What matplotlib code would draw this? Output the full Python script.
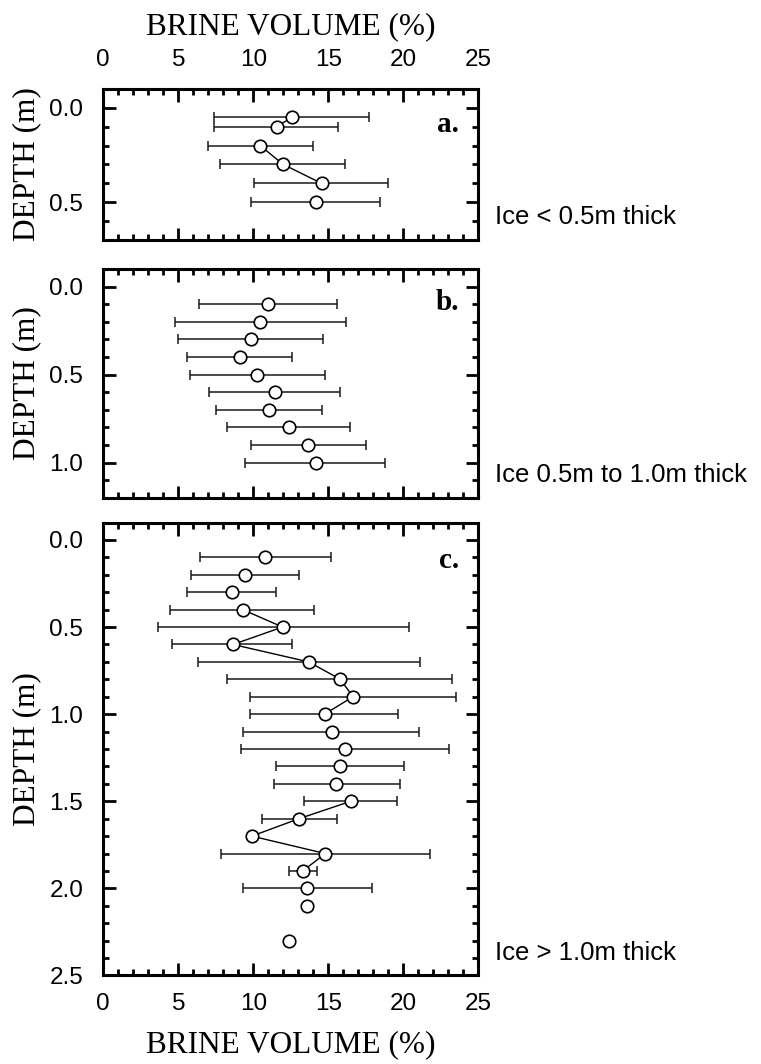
import numpy as np
import matplotlib
matplotlib.use("Agg")
import matplotlib.pyplot as plt
from matplotlib.ticker import MultipleLocator

nan = np.nan

# a. ice < 0.5 m thick
depth_a = [0.05, 0.1, 0.2, 0.3, 0.4, 0.5]
bv_a = [12.6, 11.55, 10.45, 12.0, 14.55, 14.2]
lo_a = [7.4, 7.4, 7.0, 7.75, 10.05, 9.85]
hi_a = [17.7, 15.65, 13.95, 16.1, 19.0, 18.45]
link_a = [1, 0, 1, 1, 0]

# b. ice 0.5 m to 1.0 m thick
depth_b = [0.1, 0.2, 0.3, 0.4, 0.5, 0.6, 0.7, 0.8, 0.9, 1.0]
bv_b = [10.95, 10.45, 9.85, 9.1, 10.25, 11.45, 11.05, 12.4, 13.65, 14.15]
lo_b = [6.35, 4.75, 5.0, 5.55, 5.75, 7.05, 7.5, 8.25, 9.85, 9.45]
hi_b = [15.6, 16.2, 14.65, 12.6, 14.75, 15.75, 14.6, 16.45, 17.5, 18.8]
link_b = [0, 0, 0, 0, 0, 0, 0, 0, 0]

# c. ice > 1.0 m thick
depth_c = [0.1, 0.2, 0.3, 0.4, 0.5, 0.6, 0.7, 0.8, 0.9, 1.0, 1.1,
           1.2, 1.3, 1.4, 1.5, 1.6, 1.7, 1.8, 1.9, 2.0, 2.1, 2.3]
bv_c = [10.8, 9.45, 8.55, 9.3, 11.95, 8.65, 13.7, 15.8, 16.65, 14.75, 15.25,
        16.1, 15.8, 15.5, 16.5, 13.05, 9.9, 14.8, 13.3, 13.6, 13.6, 12.35]
lo_c = [6.45, 5.85, 5.55, 4.45, 3.65, 4.6, 6.3, 8.25, 9.8, 9.8, 9.3,
        9.2, 11.5, 11.35, 13.35, 10.6, nan, 7.85, 12.4, 9.3, nan, nan]
hi_c = [15.15, 13.05, 11.5, 14.05, 20.35, 12.6, 21.1, 23.25, 23.5, 19.65, 21.05,
        23.05, 20.05, 19.75, 19.6, 15.55, nan, 21.8, 14.25, 17.9, nan, nan]
link_c = [0, 0, 0, 1, 1, 1, 1, 1, 1, 0, 0, 0, 0, 0, 1, 1, 1, 1, 0, 0, 0]

panels = [
    ("a.", "Ice < 0.5m thick", depth_a, bv_a, lo_a, hi_a, link_a, (-0.1, 0.7), [0.0, 0.5], 0.09),
    ("b.", "Ice 0.5m to 1.0m thick", depth_b, bv_b, lo_b, hi_b, link_b, (-0.1, 1.2), [0.0, 0.5, 1.0], 0.09),
    ("c.", "Ice > 1.0m thick", depth_c, bv_c, lo_c, hi_c, link_c, (-0.1, 2.5), [0.0, 0.5, 1.0, 1.5, 2.0, 2.5], 0.12),
]

# axes boxes in figure fractions (left, bottom, width, height)
boxes = [(0.1357, 0.7744, 0.4928, 0.1421),
         (0.1357, 0.5320, 0.4928, 0.2152),
         (0.1357, 0.0832, 0.4928, 0.4257)]
note_y = [0.796, 0.5536, 0.1043]

serif = "Liberation Serif"
sans = "Liberation Sans"
plt.rcParams["font.family"] = sans

fig = plt.figure(figsize=(7.61, 10.64), dpi=100)

for k, (tag, note, depth, bv, lo, hi, link, ylim, yticks, tag_y) in enumerate(panels):
    ax = fig.add_axes(boxes[k])
    depth = np.array(depth)
    bv = np.array(bv)
    lo = np.array(lo)
    hi = np.array(hi)

    ok = ~np.isnan(lo)
    ax.errorbar(bv[ok], depth[ok], xerr=[bv[ok] - lo[ok], hi[ok] - bv[ok]],
                fmt="none", ecolor="#1a1a1a", elinewidth=1.1, capsize=3.5,
                capthick=1.1, zorder=1)
    for i, flag in enumerate(link):
        if flag:
            ax.plot(bv[i:i + 2], depth[i:i + 2], color="black", lw=1.0, zorder=2)
    ax.plot(bv, depth, "o", ms=9, mfc="white", mec="black", mew=1.2, zorder=3)

    ax.set_xlim(0, 25)
    ax.set_ylim(ylim[1], ylim[0])
    ax.set_yticks(yticks)
    ax.set_yticklabels([f"{t:.1f}" for t in yticks])
    ax.xaxis.set_major_locator(MultipleLocator(5))
    ax.xaxis.set_minor_locator(MultipleLocator(1))
    ax.yaxis.set_minor_locator(MultipleLocator(0.1))
    ax.tick_params(which="both", direction="in", top=True, right=True, width=2.0,
                   labelsize=17.5)
    ax.tick_params(which="major", length=9)
    ax.tick_params(which="minor", length=4.5)
    ax.tick_params(axis="x", which="major", pad=12.5)
    ax.tick_params(axis="y", which="major", pad=14.5)
    for s in ax.spines.values():
        s.set_linewidth(2.2)

    if k == 0:
        ax.tick_params(axis="x", labeltop=True, labelbottom=False)
        ax.set_xlabel("BRINE VOLUME (%)", fontfamily=serif, fontsize=22.5, labelpad=11)
        ax.xaxis.set_label_position("top")
    elif k == 1:
        ax.tick_params(axis="x", labelbottom=False)
    else:
        ax.set_xlabel("BRINE VOLUME (%)", fontfamily=serif, fontsize=22.5, labelpad=11)

    ax.set_ylabel("DEPTH (m)", fontfamily=serif, fontsize=22.5, labelpad=6)
    ax.text(23.7, tag_y, tag, fontfamily=serif, fontweight="bold", fontsize=21,
            ha="right", va="center")
    fig.text(0.650, note_y[k], note, fontfamily=sans, fontsize=18.5, va="center", ha="left")

fig.savefig("out.png", dpi=100)
